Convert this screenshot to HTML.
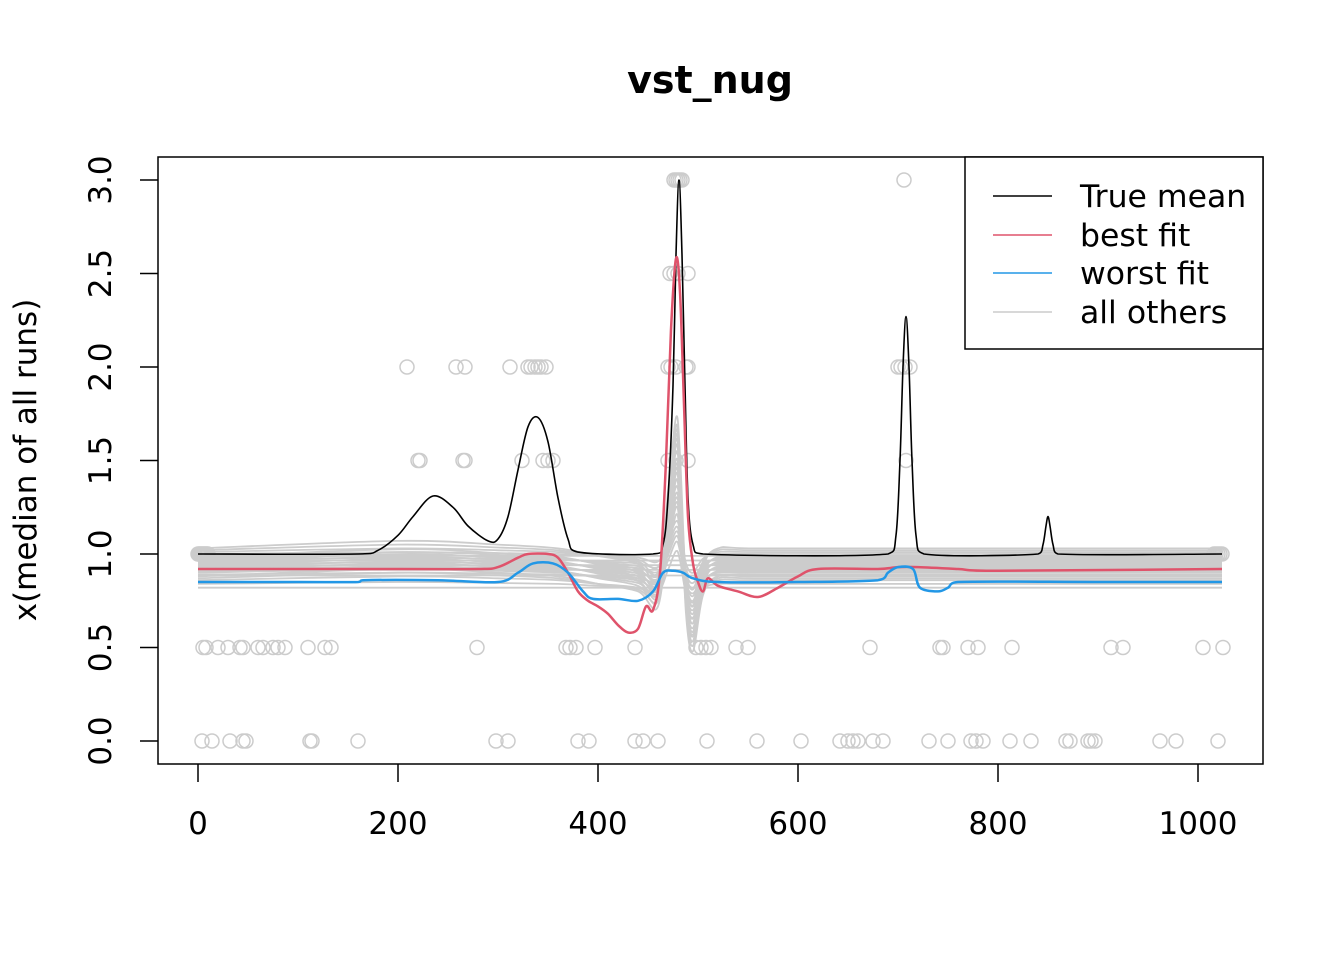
<!DOCTYPE html>
<html><head><meta charset="utf-8"><style>
body{margin:0;background:#fff}
svg text{font-family:"DejaVu Sans","Liberation Sans",sans-serif}
</style></head><body>
<svg id="chart" width="1344" height="960" xmlns="http://www.w3.org/2000/svg">
<rect width="1344" height="960" fill="#fff"/>
<text x="710" y="93" font-size="38" font-weight="bold" text-anchor="middle">vst_nug</text>
<text transform="translate(36,460) rotate(-90)" font-size="31" text-anchor="middle">x(median of all runs)</text>
<g id="grays"></g>
<g id="pts"></g>
<g id="lines"></g>
<g id="axes"></g>
<rect x="158" y="157" width="1105" height="607" fill="none" stroke="#000" stroke-width="1.5"/>
<g>
<rect x="965" y="157" width="298" height="192" fill="#fff" stroke="#000" stroke-width="1.5"/>
<line x1="993" y1="196" x2="1052" y2="196" stroke="#000" stroke-width="1.5"/>
<text x="1080" y="207" font-size="31.5">True mean</text>
<line x1="993" y1="235" x2="1052" y2="235" stroke="#DF536B" stroke-width="1.5"/>
<text x="1080" y="246" font-size="31.5">best fit</text>
<line x1="993" y1="273" x2="1052" y2="273" stroke="#2297E6" stroke-width="1.5"/>
<text x="1080" y="284" font-size="31.5">worst fit</text>
<line x1="993" y1="312" x2="1052" y2="312" stroke="#ccc" stroke-width="1.5"/>
<text x="1080" y="323" font-size="31.5">all others</text>
</g>
</svg>
<script>
const xTicks=[0,200,400,600,800,1000];
const yTicks=[0,0.5,1,1.5,2,2.5,3];
const trueX=[0,160,180,200,215,235,255,270,290,300,310,320,330,340,350,360,370,380,455,465,470,475,478,481,484,487,490,495,505,690,698,702,705,708,711,714,718,726,840,845,848,850,852,855,860,1024];
const trueY=[1,1,1.02,1.1,1.2,1.31,1.25,1.15,1.07,1.08,1.2,1.45,1.68,1.73,1.6,1.3,1.08,1.01,1,1.05,1.3,1.9,2.6,3.0,2.6,1.9,1.3,1.05,1,1,1.1,1.5,2.0,2.27,2.0,1.5,1.1,1,1,1.05,1.15,1.2,1.15,1.05,1,1];
const bestX=[0,200,280,300,320,330,350,360,370,380,390,400,410,420,430,440,448,455,462,468,473,478,482,486,490,495,500,505,510,520,540,560,580,600,620,680,700,720,760,800,1024];
const bestY=[0.92,0.92,0.92,0.93,0.98,1.0,1.0,0.98,0.9,0.8,0.75,0.72,0.68,0.62,0.58,0.6,0.72,0.7,0.9,1.5,2.2,2.58,2.4,1.8,1.2,0.95,0.85,0.8,0.87,0.83,0.8,0.77,0.82,0.88,0.92,0.92,0.93,0.93,0.92,0.91,0.92];
const worstX=[0,100,160,165,240,300,320,335,355,370,385,395,420,440,455,465,475,485,495,520,600,680,690,700,715,722,740,750,760,900,1024];
const worstY=[0.85,0.85,0.85,0.86,0.86,0.85,0.9,0.95,0.95,0.9,0.8,0.76,0.76,0.75,0.8,0.9,0.91,0.9,0.87,0.85,0.85,0.86,0.9,0.93,0.92,0.82,0.8,0.82,0.85,0.85,0.85];
const grayBase=[0.82,0.84,0.86,0.87,0.88,0.885,0.89,0.9,0.905,0.91,0.915,0.92,0.925,0.93,0.935,0.94,0.945,0.95,0.955,0.96,0.965,0.97,0.975,0.98,0.985,0.99,1.0,1.01,1.02,1.03];
const grayX=[0,200,300,360,400,440,460,470,478,482,488,495,505,520,560,1024];
const grayShape=[0,0.02,0.01,0,-0.02,-0.04,-0.08,0.15,0.35,0.25,-0.1,-0.2,-0.05,0,0,0];
const pts0=[4,14,32,45,48,112,114,160,298,310,380,391,437,445,460,509,559,603,642,650,655,660,675,685,731,750,773,778,785,812,833,868,872,890,893,897,962,978,1020];
const pts05=[5,8,20,30,42,45,60,65,75,80,87,110,127,133,279,368,372,378,397,437,498,503,508,513,538,550,672,742,745,770,780,814,913,925,1005,1025];
const pts1=[0,1,2,3,4,5,6,7,8,9,10,1016,1018,1020,1022,1024];
const pts15=[220,222,265,267,324,345,350,355,470,478,490,708];
const pts2=[209,258,267,312,330,333,337,340,343,348,470,473,478,488,490,700,703,707,712];
const pts25=[472,476,480,490];
const pts3=[476,478,480,482,484,706];
const ns="http://www.w3.org/2000/svg";
const X=v=>198+v*1.0, Y=v=>741-v*187;
function mk(t,a,p){const e=document.createElementNS(ns,t);for(const k in a)e.setAttribute(k,a[k]);p.appendChild(e);return e;}
function path(xs,ys){
  const p=xs.map((x,i)=>[X(x),Y(ys[i])]);
  let d='M'+p[0][0].toFixed(1)+','+p[0][1].toFixed(1);
  for(let i=0;i<p.length-1;i++){
    const p0=p[Math.max(0,i-1)],p1=p[i],p2=p[i+1],p3=p[Math.min(p.length-1,i+2)];
    const c1=[p1[0]+(p2[0]-p0[0])/6,p1[1]+(p2[1]-p0[1])/6];
    const c2=[p2[0]-(p3[0]-p1[0])/6,p2[1]-(p3[1]-p1[1])/6];
    c1[0]=Math.min(Math.max(c1[0],p1[0]),p2[0]);c2[0]=Math.min(Math.max(c2[0],p1[0]),p2[0]);
    d+=` C${c1[0].toFixed(1)},${c1[1].toFixed(1)} ${c2[0].toFixed(1)},${c2[1].toFixed(1)} ${p2[0].toFixed(1)},${p2[1].toFixed(1)}`;
  }
  return d;
}
const axes=document.getElementById('axes');
xTicks.forEach(t=>{mk('line',{x1:X(t),x2:X(t),y1:764,y2:782,stroke:'#000','stroke-width':1.5},axes);
const e=mk('text',{x:X(t),y:834,'font-size':31,'text-anchor':'middle'},axes);e.textContent=t;

});
yTicks.forEach(t=>{mk('line',{x1:140,x2:158,y1:Y(t),y2:Y(t),stroke:'#000','stroke-width':1.5},axes);
const e=mk('text',{transform:`translate(111,${Y(t)}) rotate(-90)`,'font-size':31,'text-anchor':'middle'},axes);e.textContent=t.toFixed(1);

});
const g=document.getElementById('grays');
grayBase.forEach((b,j)=>{const s=((j%5)-2)*0.5+1;
const e=mk('path',{d:path(grayX,grayShape.map(v=>b+v*s)),fill:'none',stroke:'#cccccc','stroke-width':1.8},g);

});
const P=document.getElementById('pts');
[[pts0,0],[pts05,0.5],[pts1,1],[pts15,1.5],[pts2,2],[pts25,2.5],[pts3,3]].forEach(([xs,y])=>xs.forEach(x=>{
const e=mk('circle',{cx:X(x),cy:Y(y),r:7,fill:'none',stroke:'#cccccc','stroke-width':1.5},P);

}));
const L=document.getElementById('lines');
let e=mk('path',{d:path(trueX,trueY),fill:'none',stroke:'#000','stroke-width':1.6},L);


e=mk('path',{d:path(bestX,bestY),fill:'none',stroke:'#DF536B','stroke-width':2.5},L);


e=mk('path',{d:path(worstX,worstY),fill:'none',stroke:'#2297E6','stroke-width':2.5},L);


</script>
</body></html>
